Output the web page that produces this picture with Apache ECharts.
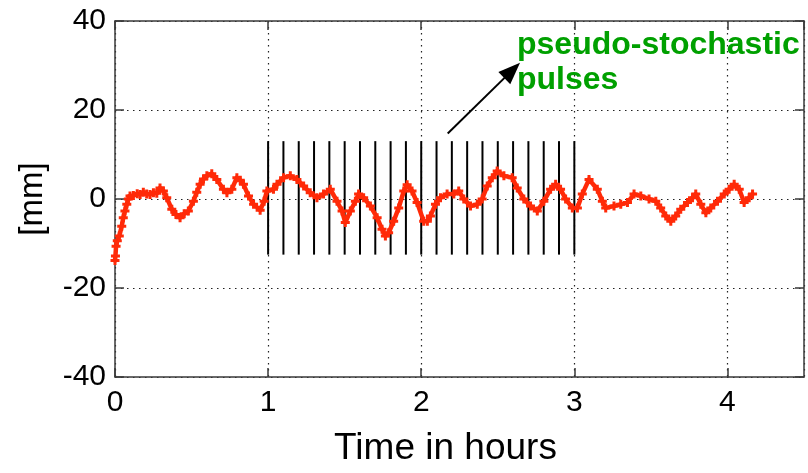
<!DOCTYPE html>
<html><head><meta charset="utf-8">
<script src="https://cdn.jsdelivr.net/npm/echarts@6/dist/echarts.min.js"></script>
<style>html,body{margin:0;padding:0;background:#fff}#c{width:808px;height:473px}</style>
</head><body><div id="c"></div>
<script>
const timeHours = [0, 0.003, 0.007, 0.015, 0.028, 0.044, 0.054, 0.065, 0.077, 0.087, 0.098, 0.12, 0.145, 0.164, 0.185, 0.207, 0.229, 0.251, 0.273, 0.294, 0.316, 0.338, 0.371, 0.398, 0.425, 0.452, 0.479, 0.512, 0.534, 0.556, 0.578, 0.600, 0.632, 0.665, 0.708, 0.731, 0.763, 0.796, 0.818, 0.839, 0.872, 0.905, 0.948, 0.974, 0.992, 1.035, 1.058, 1.101, 1.145, 1.188, 1.232, 1.275, 1.319, 1.362, 1.406, 1.450, 1.483, 1.504, 1.537, 1.570, 1.591, 1.624, 1.668, 1.712, 1.744, 1.766, 1.787, 1.820, 1.853, 1.886, 1.908, 1.940, 1.973, 2.016, 2.040, 2.060, 2.093, 2.126, 2.169, 2.213, 2.245, 2.278, 2.322, 2.366, 2.398, 2.431, 2.464, 2.496, 2.540, 2.594, 2.627, 2.670, 2.714, 2.758, 2.801, 2.845, 2.878, 2.910, 2.943, 2.987, 3.020, 3.052, 3.096, 3.150, 3.183, 3.205, 3.259, 3.303, 3.347, 3.390, 3.434, 3.488, 3.532, 3.564, 3.597, 3.630, 3.662, 3.695, 3.739, 3.772, 3.793, 3.826, 3.859, 3.891, 3.935, 3.979, 4.011, 4.044, 4.077, 4.109, 4.142, 4.164];
const displacementMm = [-13.8, -12.8, -10.6, -9.4, -8.3, -6.1, -4.2, -2.7, -1.2, 0, 0.7, 0.8, 1.2, 1.0, 1.5, 1.1, 1.0, 1.4, 1.3, 2.5, 1.8, 0.3, -2.3, -3.5, -4.2, -3.3, -2.7, -0.5, 1.5, 3.3, 4.5, 5.2, 5.7, 4.4, 2.2, 1.4, 2.2, 4.8, 4.2, 3.3, 0.7, -1.2, -2.5, -0.5, 1.8, 2.2, 3.3, 4.8, 5.2, 4.4, 2.9, 1.4, 0.3, 1.1, 2.2, -0.5, -2.7, -5.3, -2.7, -0.5, 1.1, 0.3, -1.6, -4.2, -6.8, -8.3, -7.6, -5.0, -2.0, 1.8, 3.2, 1.8, -0.8, -5.0, -5.0, -3.8, -1.2, 0.3, 1.1, 1.1, 1.8, 0, -1.6, -1.2, 0, 2.9, 4.8, 6.3, 5.2, 4.8, 2.5, 0, -1.6, -2.7, -0.5, 2.2, 3.3, 2.2, 0, -2.0, -2.0, 1.1, 4.4, 2.2, -0.5, -2.0, -1.6, -1.2, -0.8, 1.1, 0.7, 0, -0.5, -2.0, -3.8, -5.0, -3.8, -2.3, -0.8, 0.3, 1.1, -1.2, -3.1, -2.0, -0.5, 1.1, 2.2, 3.3, 2.2, -0.8, 0.3, 1.1];
const pulseTimes = [1.0, 1.1, 1.2, 1.3, 1.4, 1.5, 1.6, 1.7, 1.8, 1.9, 2.0, 2.1, 2.2, 2.3, 2.4, 2.5, 2.6, 2.7, 2.8, 2.9, 3.0];
const pulseLow = -12.5;
const pulseHigh = 13;
const xTicks = [0, 1, 2, 3, 4];
const yTicks = [-40, -20, 0, 20, 40];
const arrowFrom = [2.173, 14.7];
const arrowTo = [2.594, 28.9];
const annotationText = 'pseudo-stochastic\npulses';

const FONT = 'Liberation Sans, Arial, sans-serif';
const seriesData = timeHours.map((t, i) => [t, displacementMm[i]]);
const pulseData = pulseTimes.map(t => [t, pulseLow, pulseHigh]);

const chart = echarts.init(document.getElementById('c'), null, {renderer: 'canvas'});
const axisCol = '#3a3a3a';
const baseX = {
  type: 'value', min: 0, max: 4.5, interval: 1,
  axisLine: {show: true, onZero: false, lineStyle: {color: axisCol, width: 1.5}},
  axisTick: {show: true, inside: true, length: 9, lineStyle: {color: axisCol, width: 1.5}},
  splitLine: {show: false}
};
const baseY = {
  type: 'value', min: -40, max: 40, interval: 20,
  axisLine: {show: true, onZero: false, lineStyle: {color: axisCol, width: 1.5}},
  axisTick: {show: true, inside: true, length: 9, lineStyle: {color: axisCol, width: 1.5}},
  splitLine: {show: false}
};
chart.setOption({
  animation: false,
  backgroundColor: '#ffffff',
  grid: {left: 115, right: 4, top: 21, bottom: 96, containLabel: false},
  xAxis: [
    Object.assign({}, baseX, {
      position: 'bottom',
      name: 'Time in hours', nameLocation: 'middle', nameGap: 53,
      nameTextStyle: {fontFamily: FONT, fontSize: 37, color: '#000', padding: [0, 28, 0, 0]},
      axisLabel: {show: true, margin: 11, fontFamily: FONT, fontSize: 30, color: '#000', showMaxLabel: false,
        formatter: v => (xTicks.indexOf(v) >= 0 ? String(v) : '')},
      splitLine: {show: true, lineStyle: {color: '#222', type: [1.5, 4.5], width: 1.2}}
    }),
    Object.assign({}, baseX, {position: 'top', axisLabel: {show: false}})
  ],
  yAxis: [
    Object.assign({}, baseY, {
      position: 'left',
      name: '[mm]', nameLocation: 'middle', nameGap: 66, nameRotate: 90,
      nameTextStyle: {fontFamily: FONT, fontSize: 33, color: '#000'},
      axisLabel: {show: true, margin: 9, fontFamily: FONT, fontSize: 30, color: '#000',
        formatter: v => (yTicks.indexOf(v) >= 0 ? String(v) : '')},
      splitLine: {show: true, lineStyle: {color: '#222', type: [1.5, 4.5], width: 1.2}}
    }),
    Object.assign({}, baseY, {position: 'right', axisLabel: {show: false}})
  ],
  series: [
    {
      type: 'custom',
      xAxisIndex: 0, yAxisIndex: 0,
      data: pulseData,
      z: 3,
      renderItem: function (params, api) {
        const a = api.coord([api.value(0), api.value(1)]);
        const b = api.coord([api.value(0), api.value(2)]);
        return {type: 'line', shape: {x1: a[0], y1: a[1], x2: b[0], y2: b[1]},
          style: {stroke: '#000', lineWidth: 2}};
      }
    },
    {
      type: 'line',
      xAxisIndex: 0, yAxisIndex: 0,
      data: seriesData,
      z: 4,
      symbol: 'path://M-1,-3H1V-1H3V1H1V3H-1V1H-3V-1H-1Z',
      symbolSize: 9,
      showAllSymbol: true,
      itemStyle: {color: '#ff2a08'},
      lineStyle: {color: '#ff2a08', width: 4.5, join: 'round', cap: 'round'},
      markLine: {
        silent: true,
        symbol: ['none', 'triangle'],
        symbolSize: [17, 22],
        label: {show: false},
        lineStyle: {color: '#000', width: 2, type: 'solid'},
        data: [[{coord: arrowFrom}, {coord: arrowTo}]]
      }
    }
  ],
  graphic: [
    {type: 'text', left: 517, top: 28, z: 10,
      style: {text: annotationText, fontFamily: FONT, fontWeight: 'bold', fontSize: 32, lineHeight: 35, fill: '#00a000'}}
  ]
});
</script></body></html>
